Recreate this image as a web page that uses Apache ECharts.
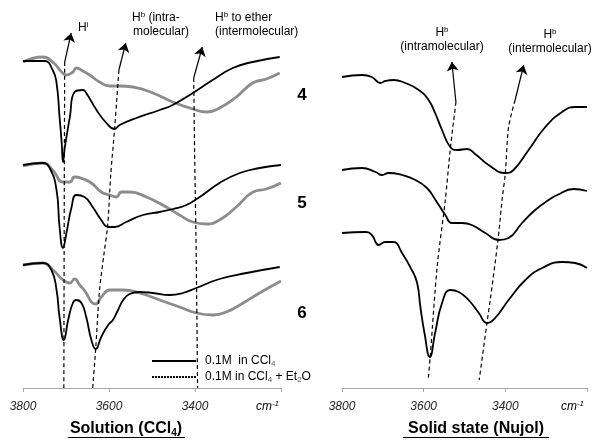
<!DOCTYPE html>
<html>
<head>
<meta charset="utf-8">
<script src="https://cdn.jsdelivr.net/npm/echarts@6/dist/echarts.min.js"></script>
<style>
html, body { margin: 0; padding: 0; background: #fff; }
#chart { width: 593px; height: 442px; }
</style>
</head>
<body>
<div id="chart"></div>
<script>
// tick labels on both wavenumber axes
var tickLabels = [3800, 3600, 3400];

// solution spectra (CCl4), [wavenumber, transmittance a.u.]
var sol4 = [[3800,327],[3750,327],[3731,318],[3722,305],[3715,271],[3710,245],[3707,226],[3703,240],[3691,271],[3680,296],[3661,298],[3653,295],[3629,278],[3606,265],[3587,259],[3575,263],[3536,270],[3482,278],[3452,283],[3405,295],[3359,308],[3312,320],[3266,326],[3203,331]];
var sol4Et = [[3800,326],[3754,331],[3731,326],[3708,315],[3699,313],[3684,316],[3676,320],[3661,317],[3645,313],[3622,306],[3598,302],[3575,302],[3545,301],[3498,295],[3452,286],[3405,279],[3373,276],[3343,280],[3304,291],[3266,305],[3234,309],[3203,315]];
var sol5 = [[3800,223],[3754,225],[3738,220],[3722,198],[3715,161],[3707,140],[3699,155],[3687,181],[3676,193],[3657,191],[3638,181],[3618,168],[3602,161],[3587,161],[3560,166],[3521,173],[3482,176],[3451,179],[3420,183],[3389,191],[3343,205],[3296,215],[3250,220],[3200,223]];
var sol5Et = [[3800,222],[3754,225],[3731,218],[3707,206],[3691,206],[3680,211],[3660,209],[3641,205],[3618,196],[3598,193],[3583,191],[3571,196],[3552,196],[3513,191],[3467,181],[3436,173],[3405,166],[3373,164],[3343,168],[3304,181],[3265,196],[3234,199],[3200,205]];
var sol6 = [[3800,123],[3754,125],[3734,118],[3722,98],[3715,71],[3705,48],[3695,68],[3684,85],[3676,88],[3664,85],[3653,71],[3641,48],[3631,39],[3618,51],[3602,63],[3591,68],[3579,78],[3567,88],[3552,94],[3529,96],[3498,95],[3459,93],[3428,95],[3397,100],[3343,109],[3280,115],[3203,121]];
var sol6Et = [[3800,123],[3754,125],[3730,118],[3707,108],[3691,105],[3680,109],[3668,103],[3653,95],[3641,86],[3631,84],[3618,91],[3598,98],[3567,98],[3529,95],[3482,88],[3436,81],[3397,75],[3358,73],[3327,76],[3288,85],[3250,95],[3200,107]];

// solid state spectra (Nujol)
var nuj4 = [[3800,311],[3751,313],[3727,311],[3706,305],[3694,307],[3674,308],[3645,305],[3612,298],[3588,288],[3572,275],[3555,258],[3535,241],[3518,238],[3494,239],[3474,234],[3441,223],[3400,215],[3380,218],[3343,238],[3302,261],[3261,276],[3229,281],[3200,281]];
var nuj5 = [[3800,218],[3751,220],[3718,216],[3702,213],[3686,215],[3653,213],[3620,208],[3592,200],[3571,188],[3547,173],[3531,165],[3506,165],[3482,163],[3449,155],[3416,148],[3392,150],[3359,165],[3327,178],[3294,188],[3273,193],[3233,199],[3200,197]];
var nuj6 = [[3800,155],[3743,156],[3727,153],[3710,143],[3694,146],[3674,146],[3653,135],[3629,118],[3616,105],[3608,81],[3598,55],[3585,31],[3572,55],[3555,85],[3535,98],[3514,96],[3490,88],[3465,75],[3445,65],[3425,70],[3392,88],[3351,108],[3310,120],[3261,126],[3229,125],[3200,120]];

// peak guide lines and arrows
var guideHi = [[3703,326],[3704,200],[3705,0]];
var guideIntra = [[3577,318],[3582,288],[3587,259],[3596,213],[3603,163],[3612,133],[3622,98],[3631,39],[3638,0]];
var guideEther = [[3403,310],[3401,238],[3398,158],[3396,88],[3394,0]];
var guideNujIntra = [[3521,286],[3535,238],[3547,188],[3567,121],[3584,31],[3589,8]];
var guideNujInter = [[3376,288],[3392,261],[3400,215],[3408,188],[3418,148],[3437,88],[3445,65],[3464,8]];
var arrowsSol = [[[3703,326],[3688,355]], [[3577,318],[3561,345]], [[3403,310],[3383,341]]];
var arrowsNuj = [[[3521,286],[3531,326]], [[3376,288],[3355,323]]];

var nameCCl4 = '0.1M  in CCl4';
var nameEt2O = '0.1M in CCl4 + Et2O';

var font = "'Liberation Sans', Arial, sans-serif";

function spectrum(name, data, idx, color, width) {
    return {
        name: name, type: 'line', xAxisIndex: idx, yAxisIndex: idx,
        data: data, smooth: 0.5,
        symbol: 'none', silent: true,
        lineStyle: { color: color, width: width }, z: color === '#000' ? 3 : 2
    };
}
function guide(data, idx) {
    return {
        type: 'line', xAxisIndex: idx, yAxisIndex: idx, data: data,
        smooth: 0.3, symbol: 'none', silent: true,
        lineStyle: { color: '#000', width: 1.2, type: [4, 3] }, z: 4
    };
}
function arrows(list, idx) {
    return {
        type: 'lines', coordinateSystem: 'cartesian2d', xAxisIndex: idx, yAxisIndex: idx,
        symbol: ['none', 'arrow'], symbolSize: 9, silent: true,
        lineStyle: { color: '#000', width: 1.2, opacity: 1 },
        data: list.map(function (c) { return { coords: c }; }), z: 4
    };
}
function xAxis(idx) {
    return {
        type: 'value', gridIndex: idx, inverse: true, min: 3200, max: 3800, interval: 200,
        axisLine: { lineStyle: { color: '#a6a6a6', width: 1 } },
        axisTick: { length: 4, lineStyle: { color: '#a6a6a6' } },
        splitLine: { show: false },
        axisLabel: {
            fontStyle: 'italic', fontSize: 12, color: '#262626', fontFamily: font, margin: 13,
            formatter: function (v) { return tickLabels.indexOf(v) >= 0 ? String(v) : ''; }
        }
    };
}
function yAxis(idx) {
    return { type: 'value', gridIndex: idx, min: 0, max: 388, show: false };
}
function txt(x, y, text, opts) {
    var s = Object.assign({ x: x, y: y, text: text, fill: '#000', font: '12px ' + font,
        textAlign: 'center', textVerticalAlign: 'middle' }, opts || {});
    return { type: 'text', style: s, z: 10 };
}
var sup = { fontSize: 8, fontFamily: font, padding: [0, 0, 6, 0] };
var sub = { fontSize: 8, fontFamily: font, padding: [6, 0, 0, 0] };
var base12 = { fontSize: 12, fontFamily: font, color: '#000' };
var cmRich = {
    c: { fontSize: 12, fontStyle: 'italic', fontFamily: font, color: '#262626' },
    s: { fontSize: 8, fontStyle: 'italic', fontFamily: font, color: '#262626', padding: [0, 0, 6, 0] }
};

var option = {
    animation: false,
    grid: [
        { left: 23, width: 258, top: 0, height: 388 },
        { left: 342, width: 245, top: 0, height: 388 }
    ],
    xAxis: [xAxis(0), xAxis(1)],
    yAxis: [yAxis(0), yAxis(1)],
    legend: {
        left: 146, top: 350, orient: 'vertical', itemWidth: 44, itemHeight: 12, itemGap: 3,
        selectedMode: false,
        itemStyle: { opacity: 0 },
        data: [
            { name: nameCCl4, itemStyle: { opacity: 0 }, lineStyle: { color: '#000', width: 2, type: 'solid' } },
            { name: nameEt2O, itemStyle: { opacity: 0 }, lineStyle: { color: '#000', width: 2, type: [2, 1] } }
        ],
        formatter: function (n) {
            return n === nameCCl4 ? '{t|0.1M  in CCl}{s|4}' : '{t|0.1M in CCl}{s|4}{t| + Et}{s|2}{t|O}';
        },
        textStyle: { padding: [0, 0, 0, 4], rich: { t: base12, s: sub } }
    },
    series: [
        spectrum(nameEt2O, sol4Et, 0, '#8c8c8c', 2.8),
        spectrum(nameEt2O, sol5Et, 0, '#8c8c8c', 2.8),
        spectrum(nameEt2O, sol6Et, 0, '#8c8c8c', 2.8),
        spectrum(nameCCl4, sol4, 0, '#000', 1.8),
        spectrum(nameCCl4, sol5, 0, '#000', 1.8),
        spectrum(nameCCl4, sol6, 0, '#000', 1.8),
        spectrum('Nujol 4', nuj4, 1, '#000', 1.8),
        spectrum('Nujol 5', nuj5, 1, '#000', 1.8),
        spectrum('Nujol 6', nuj6, 1, '#000', 1.8),
        guide(guideHi, 0), guide(guideIntra, 0), guide(guideEther, 0),
        guide(guideNujIntra, 1), guide(guideNujInter, 1),
        arrows(arrowsSol, 0), arrows(arrowsNuj, 1)
    ],
    graphic: [
        txt(78, 28, '{h|H}{s|i}', { textAlign: 'left', rich: { h: base12, s: sup } }),
        txt(132, 18, '{h|H}{s|b}{h| (intra-}', { textAlign: 'left', rich: { h: base12, s: sup } }),
        txt(133, 32, 'molecular)', { textAlign: 'left' }),
        txt(215, 18, '{h|H}{s|b}{h| to ether}', { textAlign: 'left', rich: { h: base12, s: sup } }),
        txt(215, 32, '(intermolecular)', { textAlign: 'left' }),
        txt(442, 33, '{h|H}{s|b}', { rich: { h: base12, s: sup } }),
        txt(442, 47, '(intramolecular)'),
        txt(550, 35, '{h|H}{s|b}', { rich: { h: base12, s: sup } }),
        txt(550, 49, '(intermolecular)'),
        txt(302, 95, '4', { font: 'bold 17px ' + font }),
        txt(302, 203, '5', { font: 'bold 17px ' + font }),
        txt(302, 313, '6', { font: 'bold 17px ' + font }),
        txt(279, 407, '{c|cm}{s|-1}', { textAlign: 'right', rich: cmRich }),
        txt(584, 407, '{c|cm}{s|-1}', { textAlign: 'right', rich: cmRich }),
        txt(126, 429, '{t|Solution (CCl}{s|4}{t|)}', { rich: { t: { fontSize: 16, fontWeight: 'bold', fontFamily: font, color: '#000' }, s: { fontSize: 10, fontWeight: 'bold', fontFamily: font, color: '#000', padding: [8, 0, 0, 0] } } }),
        txt(476, 429, 'Solid state (Nujol)', { font: 'bold 16px ' + font }),
        { type: 'line', shape: { x1: 68, y1: 437.5, x2: 185, y2: 437.5 }, style: { stroke: '#000', lineWidth: 1.2 } },
        { type: 'line', shape: { x1: 403, y1: 437.5, x2: 549, y2: 437.5 }, style: { stroke: '#000', lineWidth: 1.2 } }
    ]
};

var chart = echarts.init(document.getElementById('chart'));
chart.setOption(option);
window.onresize = function () { chart.resize(); };
</script>
</body>
</html>
